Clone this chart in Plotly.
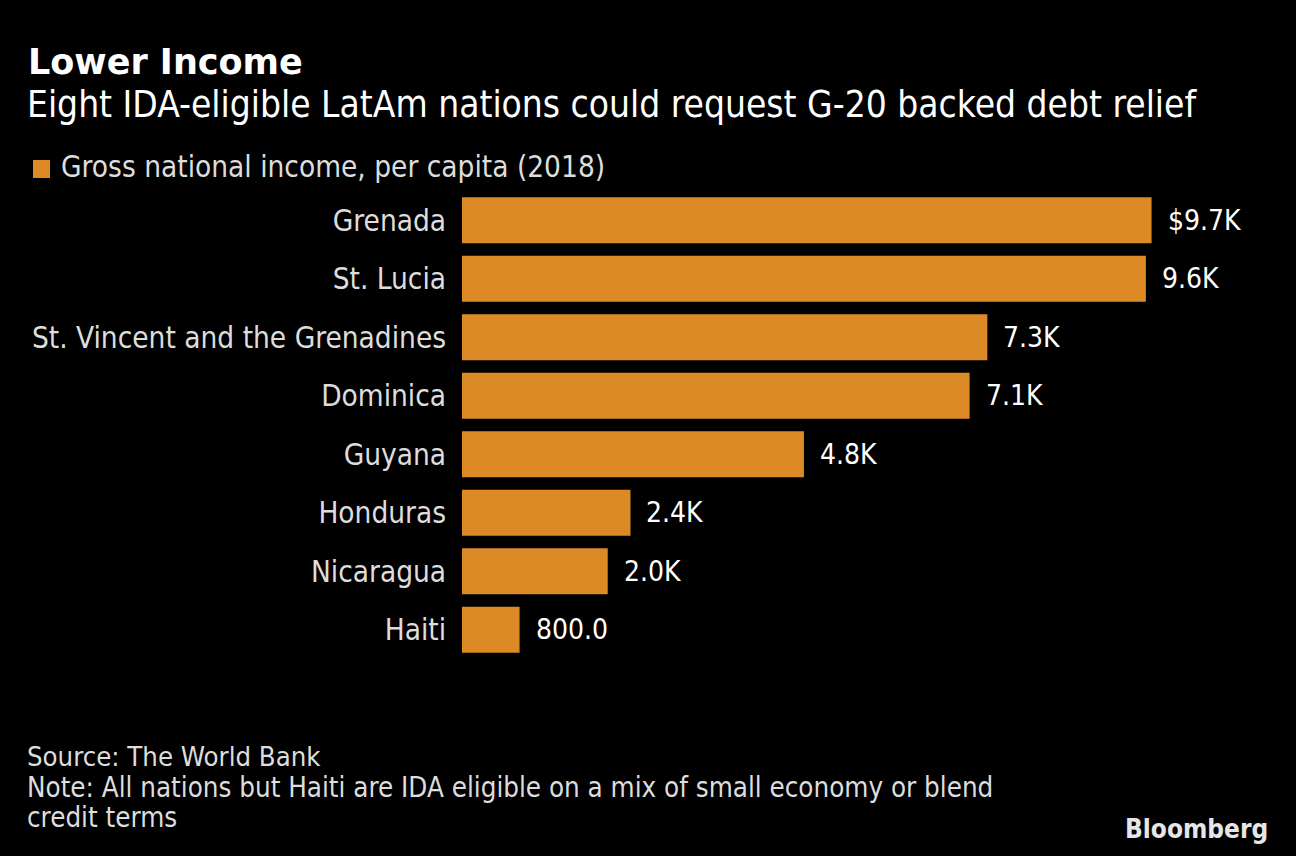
import plotly.graph_objects as go

countries = ["Grenada", "St. Lucia", "St. Vincent and the Grenadines", "Dominica",
             "Guyana", "Honduras", "Nicaragua", "Haiti"]
gni = [9700, 9620, 7390, 7140, 4810, 2370, 2050, 810]
value_labels = ["$9.7K", "9.6K", "7.3K", "7.1K", "4.8K", "2.4K", "2.0K", "800.0"]

series_name = "Gross national income, per capita (2018)"
title = "Lower Income"
subtitle = "Eight IDA-eligible LatAm nations could request G-20 backed debt relief"
source = "Source: The World Bank"
note_lines = ["Note: All nations but Haiti are IDA eligible on a mix of small economy or blend",
              "credit terms"]

ORANGE = "#DB8A26"
FONT = "DejaVu Sans Condensed"
W_, H_ = 1296, 856
L, R, T, B = 462, 1244, 191, 659
PW, PH = R - L, B - T

def px(x):
    return (x - L) / PW

def py(y):
    return (B - y) / PH

fig = go.Figure()
fig.add_trace(go.Bar(
    x=gni, y=countries, orientation="h",
    marker=dict(color=ORANGE, line=dict(width=0)),
    name=series_name, showlegend=False, hoverinfo="x+y",
))

annotations = []
for c, v, lab in zip(countries, gni, value_labels):
    annotations.append(dict(x=v, y=c, xref="x", yref="y", text=lab, showarrow=False,
                            xanchor="left", yanchor="middle", xshift=14,
                            font=dict(family=FONT, size=28, color="#ffffff")))

annotations += [
    dict(x=px(26), y=py(62), xref="paper", yref="paper", text="<b>" + title + "</b>",
         showarrow=False, xanchor="left", yanchor="middle",
         font=dict(family="DejaVu Sans", size=35, color="#ffffff")),
    dict(x=px(25), y=py(104), xref="paper", yref="paper", text=subtitle,
         showarrow=False, xanchor="left", yanchor="middle",
         font=dict(family=FONT, size=36.8, color="#ffffff")),
    dict(x=px(59), y=py(167), xref="paper", yref="paper", text=series_name,
         showarrow=False, xanchor="left", yanchor="middle",
         font=dict(family=FONT, size=29.5, color="#dddddd")),
    dict(x=px(25), y=py(756), xref="paper", yref="paper", text=source,
         showarrow=False, xanchor="left", yanchor="middle",
         font=dict(family=FONT, size=27.3, color="#dddddd")),
    dict(x=px(25), y=py(787), xref="paper", yref="paper", text=note_lines[0],
         showarrow=False, xanchor="left", yanchor="middle",
         font=dict(family=FONT, size=27.5, color="#dddddd")),
    dict(x=px(25), y=py(817), xref="paper", yref="paper", text=note_lines[1],
         showarrow=False, xanchor="left", yanchor="middle",
         font=dict(family=FONT, size=27.5, color="#dddddd")),
    dict(x=px(1270), y=py(829), xref="paper", yref="paper", text="<b>Bloomberg</b>",
         showarrow=False, xanchor="right", yanchor="middle",
         font=dict(family="Liberation Sans Narrow, " + FONT, size=26, color="#e6e6e6")),
]

shapes = [dict(type="rect", xref="paper", yref="paper",
               x0=px(33), x1=px(50), y0=py(178), y1=py(160),
               fillcolor=ORANGE, line=dict(width=0))]

fig.update_layout(
    width=W_, height=H_,
    paper_bgcolor="#000000", plot_bgcolor="#000000",
    margin=dict(l=L, r=W_ - R, t=T, b=H_ - B, pad=0),
    bargap=0.215,
    xaxis=dict(range=[0, 11000], visible=False, fixedrange=True),
    yaxis=dict(categoryorder="array", categoryarray=countries[::-1],
               showgrid=False, zeroline=False, showline=False,
               ticks="outside", ticklen=9, tickcolor="rgba(0,0,0,0)",
               tickfont=dict(family=FONT, size=29.5, color="#dddddd"), fixedrange=True),
    annotations=annotations, shapes=shapes,
    showlegend=False,
)

fig.write_html("out.html", config={"displayModeBar": False},
               post_script="document.body.style.margin='0';document.body.style.background='#000';")
